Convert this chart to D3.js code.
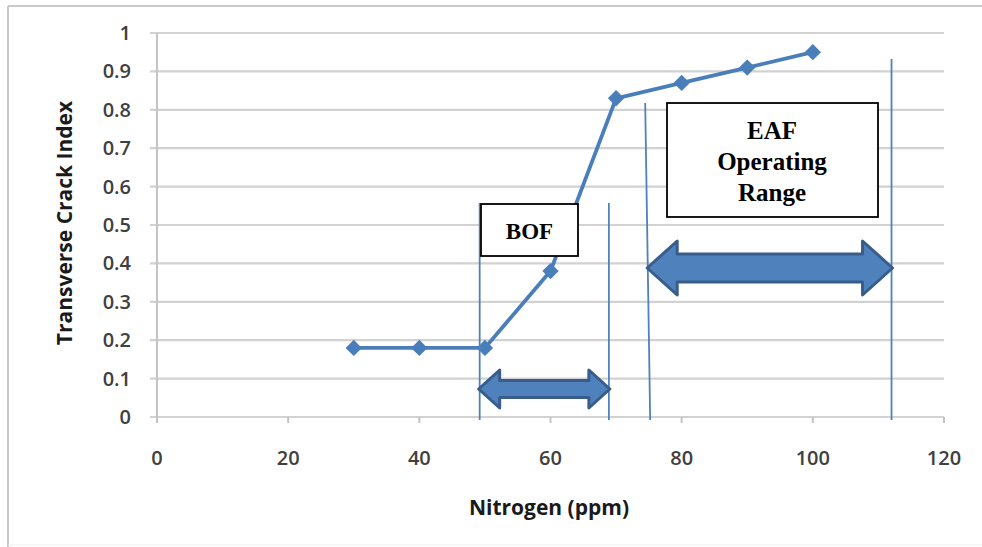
<!DOCTYPE html>
<html><head><meta charset="utf-8">
<script src="https://cdn.jsdelivr.net/npm/d3@7"></script>
<style>body{margin:0;background:#fff}svg{display:block}</style>
</head><body>
<svg id="c" width="982" height="547"></svg>
<script>
const nitrogen = [30, 40, 50, 60, 70, 80, 90, 100];
const crackIndex = [0.18, 0.18, 0.18, 0.38, 0.83, 0.87, 0.91, 0.95];
const xTicks = [0, 20, 40, 60, 80, 100, 120];
const yTicks = [0, 0.1, 0.2, 0.3, 0.4, 0.5, 0.6, 0.7, 0.8, 0.9, 1];
const bofRange = [49.2, 68.9];
const eafRange = [75.2, 112];
const labels = { x: "Nitrogen (ppm)", y: "Transverse Crack Index", bof: "BOF", eaf: ["EAF", "Operating", "Range"] };

const svg = d3.select("#c");
const x = d3.scaleLinear().domain([0, 120]).range([157, 944]);
const y = d3.scaleLinear().domain([0, 1]).range([417, 33]);
const blue = "#4a7ebb";

// outer frame
svg.append("line").attr("x1", 8).attr("x2", 8).attr("y1", 6).attr("y2", 547).attr("stroke", "#c8c8c8").attr("stroke-width", 2);
svg.append("line").attr("x1", 8).attr("x2", 982).attr("y1", 6).attr("y2", 6).attr("stroke", "#c8c8c8").attr("stroke-width", 2);
svg.append("line").attr("x1", 8).attr("x2", 982).attr("y1", 545).attr("y2", 545).attr("stroke", "#eeeeee").attr("stroke-width", 1);

// gridlines
svg.append("g").selectAll("line").data(yTicks).join("line")
  .attr("x1", 150).attr("x2", x(120)).attr("y1", d => y(d)).attr("y2", d => y(d))
  .attr("stroke", "#d2d2d2").attr("stroke-width", 2.2);

// y axis line
svg.append("line").attr("x1", x(0)).attr("x2", x(0)).attr("y1", y(1)).attr("y2", y(0) + 6).attr("stroke", "#c4c4c4").attr("stroke-width", 2);
// x ticks
svg.append("g").selectAll("line").data(xTicks).join("line")
  .attr("x1", d => x(d)).attr("x2", d => x(d)).attr("y1", y(0)).attr("y2", y(0) + 6)
  .attr("stroke", "#c4c4c4").attr("stroke-width", 2);

const tickFont = "'Open Sans', sans-serif";
svg.append("g").selectAll("text").data(yTicks).join("text")
  .attr("x", 131).attr("y", d => y(d) + 7).attr("text-anchor", "end")
  .attr("font-family", tickFont).attr("font-size", 20).attr("font-weight", 600).attr("fill", "#404040")
  .text(d => d3.format("~g")(d));
svg.append("g").selectAll("text").data(xTicks).join("text")
  .attr("x", d => x(d)).attr("y", 465).attr("text-anchor", "middle")
  .attr("font-family", tickFont).attr("font-size", 20).attr("font-weight", 600).attr("fill", "#404040")
  .text(d => d);

// axis titles
svg.append("text").attr("x", 549).attr("y", 515).attr("text-anchor", "middle")
  .attr("font-family", tickFont).attr("font-weight", "bold").attr("font-size", 21).attr("fill", "#1a1a1a")
  .text(labels.x);
svg.append("text").attr("transform", "translate(72,223) rotate(-90)").attr("text-anchor", "middle")
  .attr("font-family", tickFont).attr("font-weight", "bold").attr("font-size", 21).attr("fill", "#1a1a1a")
  .text(labels.y);

// data line
const pts = nitrogen.map((n, i) => [n, crackIndex[i]]);
svg.append("path").datum(pts)
  .attr("d", d3.line().x(d => x(d[0])).y(d => y(d[1])))
  .attr("fill", "none").attr("stroke", blue).attr("stroke-width", 3.8);
svg.append("g").selectAll("path").data(pts).join("path")
  .attr("transform", d => `translate(${x(d[0])},${y(d[1])})`)
  .attr("d", d3.symbol(d3.symbolDiamond2, 170))
  .attr("fill", blue);

// range lines
const vline = (x1, y1, x2, y2) => svg.append("line").attr("x1", x1).attr("x2", x2).attr("y1", y1).attr("y2", y2)
  .attr("stroke", "#4f81bd").attr("stroke-width", 1.8);
vline(x(bofRange[0]), 203, x(bofRange[0]), 420);
vline(x(bofRange[1]), 203, x(bofRange[1]), 420);
vline(x(eafRange[0]) - 5, 103, x(eafRange[0]), 420);
vline(x(eafRange[1]), 59, x(eafRange[1]), 420);

// double arrows
function dblArrow(xl, xr, cy, headH, shaftH, headL) {
  const p = [[xl, cy], [xl + headL, cy - headH / 2], [xl + headL, cy - shaftH / 2], [xr - headL, cy - shaftH / 2],
    [xr - headL, cy - headH / 2], [xr, cy], [xr - headL, cy + headH / 2], [xr - headL, cy + shaftH / 2],
    [xl + headL, cy + shaftH / 2], [xl + headL, cy + headH / 2]];
  svg.append("path").attr("d", "M" + p.join("L") + "Z")
    .attr("fill", "#4f81bd").attr("stroke", "#385d8a").attr("stroke-width", 3).attr("stroke-linejoin", "round");
}
dblArrow(x(bofRange[0]) - 1, x(bofRange[1]) + 1, 389, 38, 17, 21);
dblArrow(x(eafRange[0]) - 3, x(eafRange[1]) + 1, 268, 54, 28, 30);

// text boxes
const serif = "'Liberation Serif', 'Times New Roman', serif";
svg.append("rect").attr("x", 481).attr("y", 204).attr("width", 97).attr("height", 52)
  .attr("fill", "#fff").attr("stroke", "#000").attr("stroke-width", 1.8);
svg.append("text").attr("x", 529.5).attr("y", 239).attr("text-anchor", "middle")
  .attr("font-family", serif).attr("font-weight", "bold").attr("font-size", 23).text(labels.bof);
svg.append("rect").attr("x", 667).attr("y", 103).attr("width", 211).attr("height", 114)
  .attr("fill", "#fff").attr("stroke", "#000").attr("stroke-width", 1.8);
svg.append("g").selectAll("text").data(labels.eaf).join("text")
  .attr("x", 772).attr("y", (d, i) => 139 + i * 31).attr("text-anchor", "middle")
  .attr("font-family", serif).attr("font-weight", "bold").attr("font-size", 25).text(d => d);
</script>
</body></html>
